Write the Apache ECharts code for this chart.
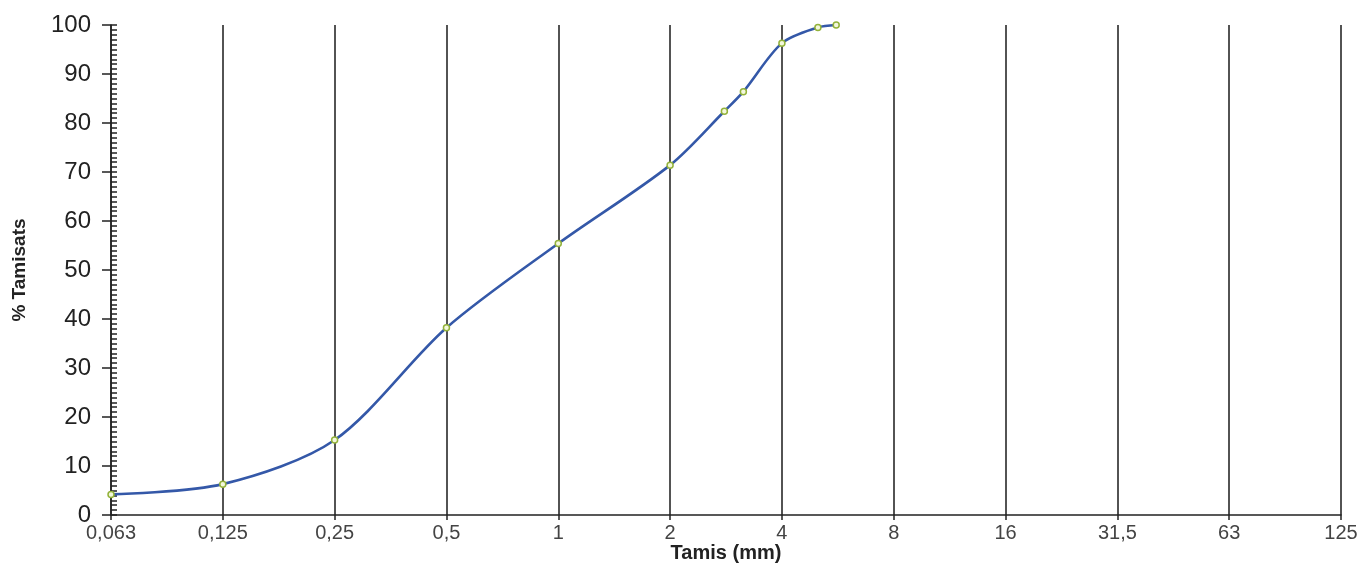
<!DOCTYPE html>
<html>
<head>
<meta charset="utf-8">
<script src="https://cdn.jsdelivr.net/npm/echarts@6/dist/echarts.min.js"></script>
<style>
html,body{margin:0;padding:0;background:#fff;}
#chart{width:1366px;height:565px;}
</style>
</head>
<body>
<div id="chart"></div>
<script>
// Sieve tick sizes (mm) and their labels
const tickSizes = [0.063, 0.125, 0.25, 0.5, 1, 2, 4, 8, 16, 31.5, 63, 125];
const tickLabels = ['0,063', '0,125', '0,25', '0,5', '1', '2', '4', '8', '16', '31,5', '63', '125'];
// Measured sieves (mm) and % passing
const sieveSizes = [0.063, 0.125, 0.25, 0.5, 1, 2, 2.8, 3.15, 4, 5, 5.6];
const passing = [4.2, 6.3, 15.3, 38.2, 55.4, 71.4, 82.4, 86.4, 96.3, 99.5, 100];

// Map a sieve size onto the tick-index log scale used by the x axis
function sizeToIndex(s) {
  for (let i = 0; i < tickSizes.length - 1; i++) {
    if (s <= tickSizes[i + 1]) {
      return i + Math.log(s / tickSizes[i]) / Math.log(tickSizes[i + 1] / tickSizes[i]);
    }
  }
  return tickSizes.length - 1;
}

const seriesData = sieveSizes.map((s, i) => [sizeToIndex(s), passing[i]]);

const chart = echarts.init(document.getElementById('chart'), null, {renderer: 'canvas'});
const font = '"Liberation Sans", Arial, sans-serif';
chart.setOption({
  animation: false,
  backgroundColor: '#ffffff',
  grid: {left: 111, right: 25, top: 25, bottom: 50, containLabel: false, outerBoundsMode: 'none'},
  xAxis: {
    type: 'value',
    min: 0, max: tickSizes.length - 1, interval: 1,
    name: 'Tamis (mm)',
    nameLocation: 'middle',
    nameGap: 28,
    nameMoveOverlap: false,
    nameTextStyle: {fontFamily: font, fontSize: 20, fontWeight: 'bold', color: '#222'},
    axisLine: {show: true, lineStyle: {color: '#222', width: 1.5}},
    axisTick: {show: true, length: 5, lineStyle: {color: '#222', width: 1.5}},
    axisLabel: {
      fontFamily: font, fontSize: 20, color: '#444', margin: 8,
      formatter: v => tickLabels[Math.round(v)] || ''
    },
    splitLine: {show: true, lineStyle: {color: '#1a1a1a', width: 1.5}}
  },
  yAxis: [{
    type: 'value',
    min: 0, max: 100, interval: 10,
    name: '% Tamisats',
    nameLocation: 'middle',
    nameRotate: 90,
    nameGap: 82,
    nameMoveOverlap: false,
    nameTextStyle: {fontFamily: font, fontSize: 19, fontWeight: 'bold', color: '#222'},
    axisLine: {show: true, lineStyle: {color: '#222', width: 1.5}},
    axisTick: {show: true, length: 9, lineStyle: {color: '#222', width: 1.5}},
    axisLabel: {fontFamily: font, fontSize: 24, color: '#222', margin: 20},
    splitLine: {show: false}
  }, {
    type: 'value',
    min: 0, max: 100, interval: 1,
    position: 'left',
    axisLine: {show: false},
    axisTick: {show: true, inside: true, length: 6, lineStyle: {color: '#222', width: 1.5}},
    axisLabel: {show: false},
    splitLine: {show: false}
  }],
  series: [{
    type: 'line',
    data: seriesData,
    smooth: 0.3,
    symbol: 'circle',
    symbolSize: 6,
    lineStyle: {color: '#3458a8', width: 2.6},
    itemStyle: {color: '#f3f8dc', borderColor: '#93b23a', borderWidth: 1.5},
    z: 5
  }]
});
</script>
</body>
</html>
